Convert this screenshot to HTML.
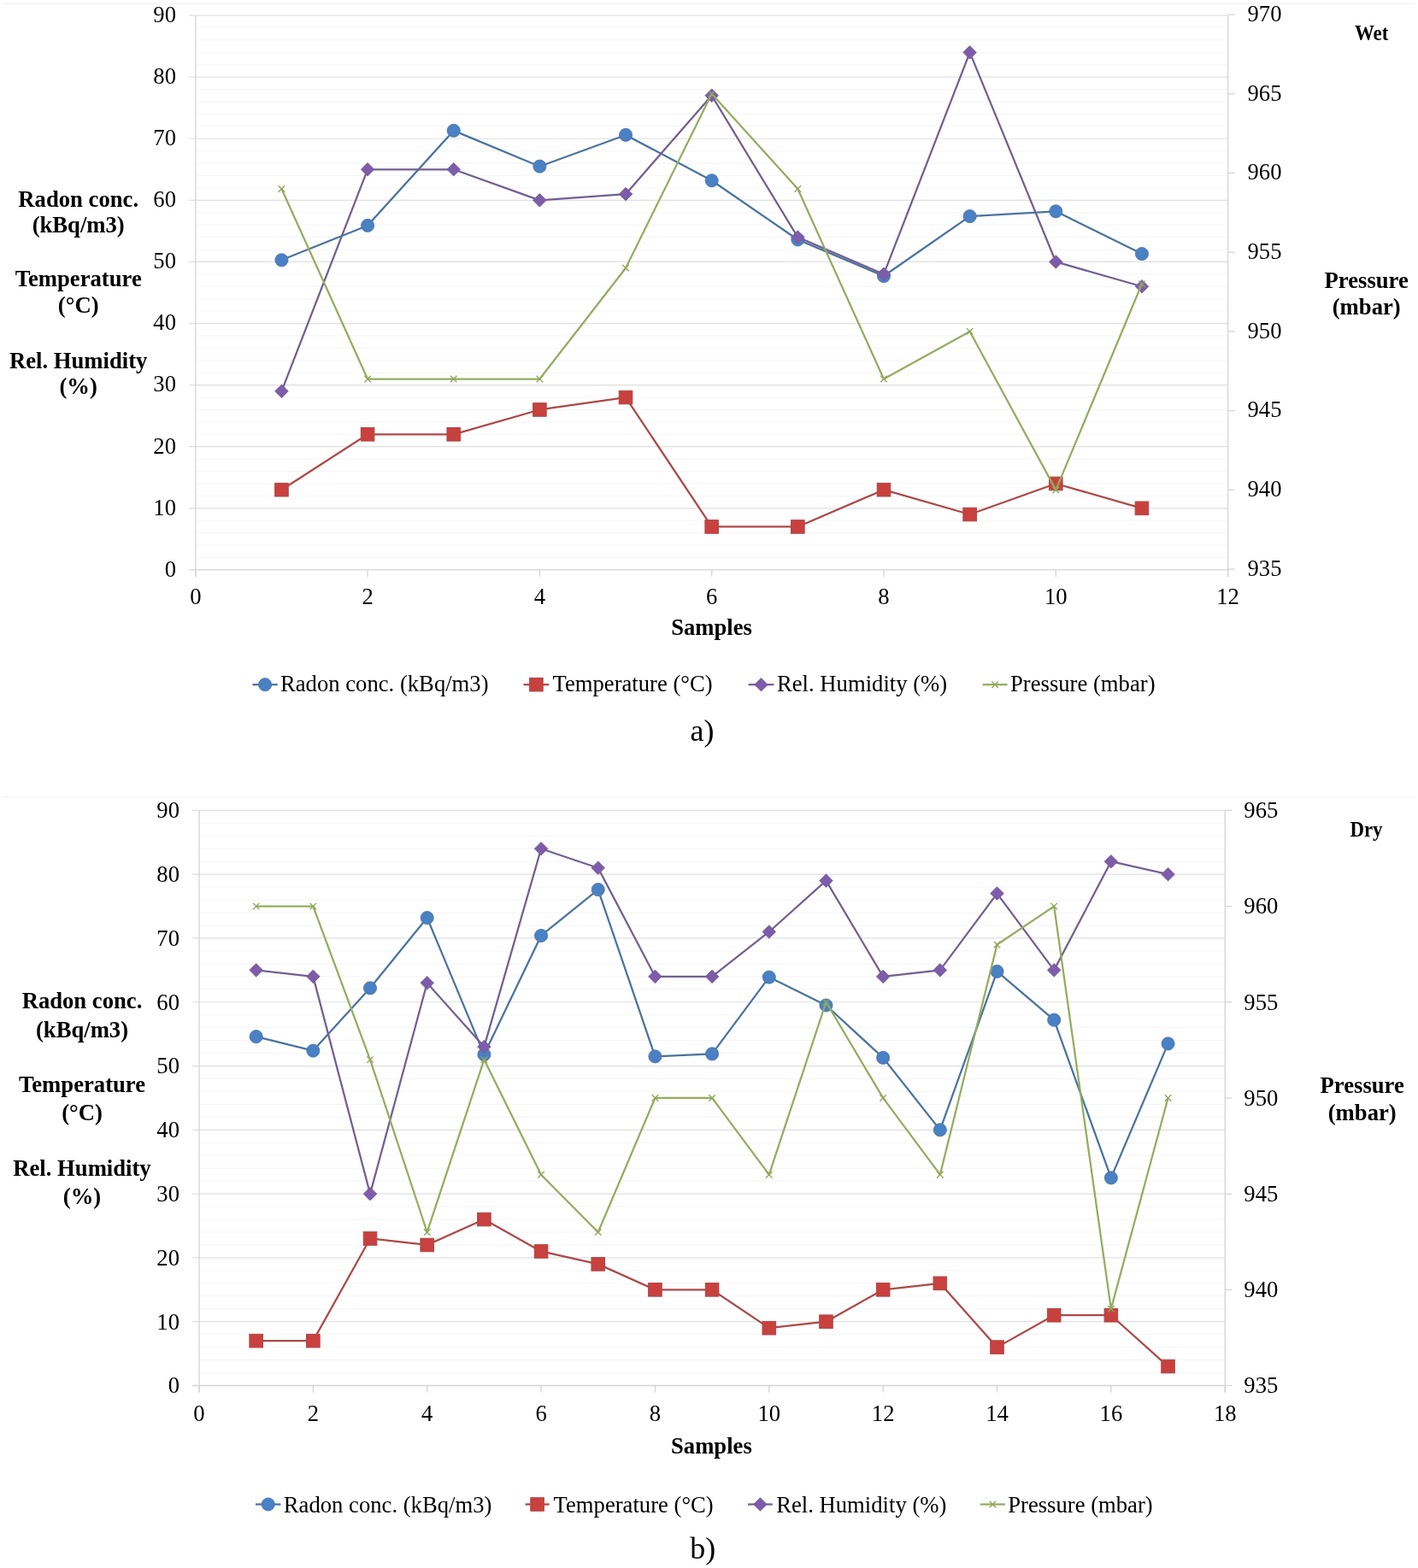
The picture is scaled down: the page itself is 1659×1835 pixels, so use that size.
<!DOCTYPE html>
<html><head><meta charset="utf-8"><title>Radon, temperature, humidity and pressure charts</title>
<style>html,body{margin:0;padding:0;background:#fff;}body{width:1659px;height:1835px;overflow:hidden;}svg{display:block;}</style>
</head><body><div id="c">
<svg width="1659" height="1835" viewBox="0 0 1659 1835">
<rect width="1659" height="1835" fill="#fff"/>
<line x1="2" y1="4.5" x2="1656" y2="4.5" stroke="#f3f3f3" stroke-width="1"/>
<line x1="228.8" y1="652.48" x2="1436.6" y2="652.48" stroke="#f5f5f5" stroke-width="1"/>
<line x1="228.8" y1="638.06" x2="1436.6" y2="638.06" stroke="#f5f5f5" stroke-width="1"/>
<line x1="228.8" y1="623.65" x2="1436.6" y2="623.65" stroke="#f5f5f5" stroke-width="1"/>
<line x1="228.8" y1="609.23" x2="1436.6" y2="609.23" stroke="#f5f5f5" stroke-width="1"/>
<line x1="228.8" y1="580.39" x2="1436.6" y2="580.39" stroke="#f5f5f5" stroke-width="1"/>
<line x1="228.8" y1="565.97" x2="1436.6" y2="565.97" stroke="#f5f5f5" stroke-width="1"/>
<line x1="228.8" y1="551.56" x2="1436.6" y2="551.56" stroke="#f5f5f5" stroke-width="1"/>
<line x1="228.8" y1="537.14" x2="1436.6" y2="537.14" stroke="#f5f5f5" stroke-width="1"/>
<line x1="228.8" y1="508.3" x2="1436.6" y2="508.3" stroke="#f5f5f5" stroke-width="1"/>
<line x1="228.8" y1="493.88" x2="1436.6" y2="493.88" stroke="#f5f5f5" stroke-width="1"/>
<line x1="228.8" y1="479.47" x2="1436.6" y2="479.47" stroke="#f5f5f5" stroke-width="1"/>
<line x1="228.8" y1="465.05" x2="1436.6" y2="465.05" stroke="#f5f5f5" stroke-width="1"/>
<line x1="228.8" y1="436.21" x2="1436.6" y2="436.21" stroke="#f5f5f5" stroke-width="1"/>
<line x1="228.8" y1="421.79" x2="1436.6" y2="421.79" stroke="#f5f5f5" stroke-width="1"/>
<line x1="228.8" y1="407.38" x2="1436.6" y2="407.38" stroke="#f5f5f5" stroke-width="1"/>
<line x1="228.8" y1="392.96" x2="1436.6" y2="392.96" stroke="#f5f5f5" stroke-width="1"/>
<line x1="228.8" y1="364.12" x2="1436.6" y2="364.12" stroke="#f5f5f5" stroke-width="1"/>
<line x1="228.8" y1="349.7" x2="1436.6" y2="349.7" stroke="#f5f5f5" stroke-width="1"/>
<line x1="228.8" y1="335.29" x2="1436.6" y2="335.29" stroke="#f5f5f5" stroke-width="1"/>
<line x1="228.8" y1="320.87" x2="1436.6" y2="320.87" stroke="#f5f5f5" stroke-width="1"/>
<line x1="228.8" y1="292.03" x2="1436.6" y2="292.03" stroke="#f5f5f5" stroke-width="1"/>
<line x1="228.8" y1="277.61" x2="1436.6" y2="277.61" stroke="#f5f5f5" stroke-width="1"/>
<line x1="228.8" y1="263.2" x2="1436.6" y2="263.2" stroke="#f5f5f5" stroke-width="1"/>
<line x1="228.8" y1="248.78" x2="1436.6" y2="248.78" stroke="#f5f5f5" stroke-width="1"/>
<line x1="228.8" y1="219.94" x2="1436.6" y2="219.94" stroke="#f5f5f5" stroke-width="1"/>
<line x1="228.8" y1="205.52" x2="1436.6" y2="205.52" stroke="#f5f5f5" stroke-width="1"/>
<line x1="228.8" y1="191.11" x2="1436.6" y2="191.11" stroke="#f5f5f5" stroke-width="1"/>
<line x1="228.8" y1="176.69" x2="1436.6" y2="176.69" stroke="#f5f5f5" stroke-width="1"/>
<line x1="228.8" y1="147.85" x2="1436.6" y2="147.85" stroke="#f5f5f5" stroke-width="1"/>
<line x1="228.8" y1="133.43" x2="1436.6" y2="133.43" stroke="#f5f5f5" stroke-width="1"/>
<line x1="228.8" y1="119.02" x2="1436.6" y2="119.02" stroke="#f5f5f5" stroke-width="1"/>
<line x1="228.8" y1="104.6" x2="1436.6" y2="104.6" stroke="#f5f5f5" stroke-width="1"/>
<line x1="228.8" y1="75.76" x2="1436.6" y2="75.76" stroke="#f5f5f5" stroke-width="1"/>
<line x1="228.8" y1="61.34" x2="1436.6" y2="61.34" stroke="#f5f5f5" stroke-width="1"/>
<line x1="228.8" y1="46.93" x2="1436.6" y2="46.93" stroke="#f5f5f5" stroke-width="1"/>
<line x1="228.8" y1="32.51" x2="1436.6" y2="32.51" stroke="#f5f5f5" stroke-width="1"/>
<line x1="220.8" y1="594.81" x2="1436.6" y2="594.81" stroke="#e0e0e0" stroke-width="1.2"/>
<line x1="220.8" y1="522.72" x2="1436.6" y2="522.72" stroke="#e0e0e0" stroke-width="1.2"/>
<line x1="220.8" y1="450.63" x2="1436.6" y2="450.63" stroke="#e0e0e0" stroke-width="1.2"/>
<line x1="220.8" y1="378.54" x2="1436.6" y2="378.54" stroke="#e0e0e0" stroke-width="1.2"/>
<line x1="220.8" y1="306.45" x2="1436.6" y2="306.45" stroke="#e0e0e0" stroke-width="1.2"/>
<line x1="220.8" y1="234.36" x2="1436.6" y2="234.36" stroke="#e0e0e0" stroke-width="1.2"/>
<line x1="220.8" y1="162.27" x2="1436.6" y2="162.27" stroke="#e0e0e0" stroke-width="1.2"/>
<line x1="220.8" y1="90.18" x2="1436.6" y2="90.18" stroke="#e0e0e0" stroke-width="1.2"/>
<line x1="220.8" y1="18.09" x2="1436.6" y2="18.09" stroke="#e0e0e0" stroke-width="1.2"/>
<line x1="220.8" y1="666.9" x2="1436.6" y2="666.9" stroke="#d4d4d4" stroke-width="1.3"/>
<line x1="228.8" y1="18.09" x2="228.8" y2="674.9" stroke="#d4d4d4" stroke-width="1.3"/>
<line x1="1436.6" y1="18.09" x2="1436.6" y2="674.9" stroke="#d4d4d4" stroke-width="1.3"/>
<line x1="228.8" y1="666.9" x2="228.8" y2="674.9" stroke="#d4d4d4" stroke-width="1.3"/>
<line x1="430.1" y1="666.9" x2="430.1" y2="674.9" stroke="#d4d4d4" stroke-width="1.3"/>
<line x1="631.4" y1="666.9" x2="631.4" y2="674.9" stroke="#d4d4d4" stroke-width="1.3"/>
<line x1="832.7" y1="666.9" x2="832.7" y2="674.9" stroke="#d4d4d4" stroke-width="1.3"/>
<line x1="1034" y1="666.9" x2="1034" y2="674.9" stroke="#d4d4d4" stroke-width="1.3"/>
<line x1="1235.3" y1="666.9" x2="1235.3" y2="674.9" stroke="#d4d4d4" stroke-width="1.3"/>
<line x1="1436.6" y1="666.9" x2="1436.6" y2="674.9" stroke="#d4d4d4" stroke-width="1.3"/>
<line x1="1436.6" y1="666.1" x2="1444.6" y2="666.1" stroke="#d4d4d4" stroke-width="1.3"/>
<line x1="1436.6" y1="573.38" x2="1444.6" y2="573.38" stroke="#d4d4d4" stroke-width="1.3"/>
<line x1="1436.6" y1="480.65" x2="1444.6" y2="480.65" stroke="#d4d4d4" stroke-width="1.3"/>
<line x1="1436.6" y1="387.93" x2="1444.6" y2="387.93" stroke="#d4d4d4" stroke-width="1.3"/>
<line x1="1436.6" y1="295.2" x2="1444.6" y2="295.2" stroke="#d4d4d4" stroke-width="1.3"/>
<line x1="1436.6" y1="202.47" x2="1444.6" y2="202.47" stroke="#d4d4d4" stroke-width="1.3"/>
<line x1="1436.6" y1="109.75" x2="1444.6" y2="109.75" stroke="#d4d4d4" stroke-width="1.3"/>
<line x1="1436.6" y1="17.02" x2="1444.6" y2="17.02" stroke="#d4d4d4" stroke-width="1.3"/>
<polyline points="329.45,304.29 430.1,263.92 530.75,152.9 631.4,194.71 732.05,157.94 832.7,211.29 933.35,280.5 1034,323.03 1134.65,253.1 1235.3,247.34 1335.95,297.08" fill="none" stroke="#4a73a0" stroke-width="2.25" stroke-linejoin="round"/>
<circle cx="329.45" cy="304.29" r="7.6" fill="#4a80c4" stroke="#4a73a0" stroke-width="0.8"/>
<circle cx="430.1" cy="263.92" r="7.6" fill="#4a80c4" stroke="#4a73a0" stroke-width="0.8"/>
<circle cx="530.75" cy="152.9" r="7.6" fill="#4a80c4" stroke="#4a73a0" stroke-width="0.8"/>
<circle cx="631.4" cy="194.71" r="7.6" fill="#4a80c4" stroke="#4a73a0" stroke-width="0.8"/>
<circle cx="732.05" cy="157.94" r="7.6" fill="#4a80c4" stroke="#4a73a0" stroke-width="0.8"/>
<circle cx="832.7" cy="211.29" r="7.6" fill="#4a80c4" stroke="#4a73a0" stroke-width="0.8"/>
<circle cx="933.35" cy="280.5" r="7.6" fill="#4a80c4" stroke="#4a73a0" stroke-width="0.8"/>
<circle cx="1034" cy="323.03" r="7.6" fill="#4a80c4" stroke="#4a73a0" stroke-width="0.8"/>
<circle cx="1134.65" cy="253.1" r="7.6" fill="#4a80c4" stroke="#4a73a0" stroke-width="0.8"/>
<circle cx="1235.3" cy="247.34" r="7.6" fill="#4a80c4" stroke="#4a73a0" stroke-width="0.8"/>
<circle cx="1335.95" cy="297.08" r="7.6" fill="#4a80c4" stroke="#4a73a0" stroke-width="0.8"/>
<polyline points="329.45,573.18 430.1,508.3 530.75,508.3 631.4,479.47 732.05,465.05 832.7,616.44 933.35,616.44 1034,573.18 1134.65,602.02 1235.3,565.97 1335.95,594.81" fill="none" stroke="#ad4848" stroke-width="2.25" stroke-linejoin="round"/>
<rect x="321.65" y="565.38" width="15.6" height="15.6" fill="#c8413e" stroke="#ad4848" stroke-width="1"/>
<rect x="422.3" y="500.5" width="15.6" height="15.6" fill="#c8413e" stroke="#ad4848" stroke-width="1"/>
<rect x="522.95" y="500.5" width="15.6" height="15.6" fill="#c8413e" stroke="#ad4848" stroke-width="1"/>
<rect x="623.6" y="471.67" width="15.6" height="15.6" fill="#c8413e" stroke="#ad4848" stroke-width="1"/>
<rect x="724.25" y="457.25" width="15.6" height="15.6" fill="#c8413e" stroke="#ad4848" stroke-width="1"/>
<rect x="824.9" y="608.64" width="15.6" height="15.6" fill="#c8413e" stroke="#ad4848" stroke-width="1"/>
<rect x="925.55" y="608.64" width="15.6" height="15.6" fill="#c8413e" stroke="#ad4848" stroke-width="1"/>
<rect x="1026.2" y="565.38" width="15.6" height="15.6" fill="#c8413e" stroke="#ad4848" stroke-width="1"/>
<rect x="1126.85" y="594.22" width="15.6" height="15.6" fill="#c8413e" stroke="#ad4848" stroke-width="1"/>
<rect x="1227.5" y="558.17" width="15.6" height="15.6" fill="#c8413e" stroke="#ad4848" stroke-width="1"/>
<rect x="1328.15" y="587.01" width="15.6" height="15.6" fill="#c8413e" stroke="#ad4848" stroke-width="1"/>
<polyline points="329.45,457.84 430.1,198.31 530.75,198.31 631.4,234.36 732.05,227.15 832.7,111.81 933.35,277.61 1034,320.87 1134.65,61.34 1235.3,306.45 1335.95,335.29" fill="none" stroke="#735f91" stroke-width="2.25" stroke-linejoin="round"/>
<polygon points="329.45,450.04 337.25,457.84 329.45,465.64 321.65,457.84" fill="#7d5cab" stroke="#735f91" stroke-width="0.8"/>
<polygon points="430.1,190.51 437.9,198.31 430.1,206.12 422.3,198.31" fill="#7d5cab" stroke="#735f91" stroke-width="0.8"/>
<polygon points="530.75,190.51 538.55,198.31 530.75,206.12 522.95,198.31" fill="#7d5cab" stroke="#735f91" stroke-width="0.8"/>
<polygon points="631.4,226.56 639.2,234.36 631.4,242.16 623.6,234.36" fill="#7d5cab" stroke="#735f91" stroke-width="0.8"/>
<polygon points="732.05,219.35 739.85,227.15 732.05,234.95 724.25,227.15" fill="#7d5cab" stroke="#735f91" stroke-width="0.8"/>
<polygon points="832.7,104.01 840.5,111.81 832.7,119.61 824.9,111.81" fill="#7d5cab" stroke="#735f91" stroke-width="0.8"/>
<polygon points="933.35,269.81 941.15,277.61 933.35,285.41 925.55,277.61" fill="#7d5cab" stroke="#735f91" stroke-width="0.8"/>
<polygon points="1034,313.07 1041.8,320.87 1034,328.67 1026.2,320.87" fill="#7d5cab" stroke="#735f91" stroke-width="0.8"/>
<polygon points="1134.65,53.54 1142.45,61.34 1134.65,69.14 1126.85,61.34" fill="#7d5cab" stroke="#735f91" stroke-width="0.8"/>
<polygon points="1235.3,298.65 1243.1,306.45 1235.3,314.25 1227.5,306.45" fill="#7d5cab" stroke="#735f91" stroke-width="0.8"/>
<polygon points="1335.95,327.49 1343.75,335.29 1335.95,343.09 1328.15,335.29" fill="#7d5cab" stroke="#735f91" stroke-width="0.8"/>
<polyline points="329.45,221.02 430.1,443.56 530.75,443.56 631.4,443.56 732.05,313.75 832.7,109.75 933.35,221.02 1034,443.56 1134.65,387.93 1235.3,573.38 1335.95,332.29" fill="none" stroke="#93ad5e" stroke-width="2.25" stroke-linejoin="round"/>
<path d="M325.75,217.32L333.15,224.72M325.75,224.72L333.15,217.32" stroke="#8ea85a" stroke-width="1.4" fill="none"/>
<path d="M426.4,439.86L433.8,447.26M426.4,447.26L433.8,439.86" stroke="#8ea85a" stroke-width="1.4" fill="none"/>
<path d="M527.05,439.86L534.45,447.26M527.05,447.26L534.45,439.86" stroke="#8ea85a" stroke-width="1.4" fill="none"/>
<path d="M627.7,439.86L635.1,447.26M627.7,447.26L635.1,439.86" stroke="#8ea85a" stroke-width="1.4" fill="none"/>
<path d="M728.35,310.05L735.75,317.44M728.35,317.44L735.75,310.05" stroke="#8ea85a" stroke-width="1.4" fill="none"/>
<path d="M829,106.05L836.4,113.45M829,113.45L836.4,106.05" stroke="#8ea85a" stroke-width="1.4" fill="none"/>
<path d="M929.65,217.32L937.05,224.72M929.65,224.72L937.05,217.32" stroke="#8ea85a" stroke-width="1.4" fill="none"/>
<path d="M1030.3,439.86L1037.7,447.26M1030.3,447.26L1037.7,439.86" stroke="#8ea85a" stroke-width="1.4" fill="none"/>
<path d="M1130.95,384.23L1138.35,391.62M1130.95,391.62L1138.35,384.23" stroke="#8ea85a" stroke-width="1.4" fill="none"/>
<path d="M1231.6,569.67L1239,577.08M1231.6,577.08L1239,569.67" stroke="#8ea85a" stroke-width="1.4" fill="none"/>
<path d="M1332.25,328.59L1339.65,335.99M1332.25,335.99L1339.65,328.59" stroke="#8ea85a" stroke-width="1.4" fill="none"/>
<g font-family='"Liberation Serif", "Times New Roman", serif' font-size="26.67" fill="#000">
<text x="206" y="674.7" text-anchor="end">0</text>
<text x="206" y="602.61" text-anchor="end">10</text>
<text x="206" y="530.52" text-anchor="end">20</text>
<text x="206" y="458.43" text-anchor="end">30</text>
<text x="206" y="386.34" text-anchor="end">40</text>
<text x="206" y="314.25" text-anchor="end">50</text>
<text x="206" y="242.16" text-anchor="end">60</text>
<text x="206" y="170.07" text-anchor="end">70</text>
<text x="206" y="97.98" text-anchor="end">80</text>
<text x="206" y="25.89" text-anchor="end">90</text>
<text x="1459.5" y="673.9">935</text>
<text x="1459.5" y="581.17">940</text>
<text x="1459.5" y="488.45">945</text>
<text x="1459.5" y="395.73">950</text>
<text x="1459.5" y="303">955</text>
<text x="1459.5" y="210.27">960</text>
<text x="1459.5" y="117.55">965</text>
<text x="1459.5" y="24.82">970</text>
<text x="228.8" y="707" text-anchor="middle">0</text>
<text x="430.1" y="707" text-anchor="middle">2</text>
<text x="631.4" y="707" text-anchor="middle">4</text>
<text x="832.7" y="707" text-anchor="middle">6</text>
<text x="1034" y="707" text-anchor="middle">8</text>
<text x="1235.3" y="707" text-anchor="middle">10</text>
<text x="1436.6" y="707" text-anchor="middle">12</text>
</g>
<g font-family='"Liberation Serif", "Times New Roman", serif' font-size="26.67" font-weight="bold" fill="#000" text-anchor="middle">
<text x="91.7" y="241.5">Radon conc.</text>
<text x="91.7" y="271.7">(kBq/m3)</text>
<text x="91.7" y="335.1">Temperature</text>
<text x="91.7" y="365.6">(°C)</text>
<text x="91.7" y="430.5">Rel. Humidity</text>
<text x="91.7" y="461">(%)</text>
<text x="1598.7" y="336.6">Pressure</text>
<text x="1598.7" y="367.6">(mbar)</text>
<text x="832.6" y="742.9">Samples</text>
<text transform="translate(1604.6,47.1) scale(1,1.13)" font-size="22.9">Wet</text>
</g>
<line x1="295.4" y1="801.2" x2="324.8" y2="801.2" stroke="#4a73a0" stroke-width="2.25"/>
<circle cx="310.1" cy="801.2" r="7.6" fill="#4a80c4" stroke="#4a73a0" stroke-width="0.8"/>
<text x="328" y="809.4" font-family='"Liberation Serif", "Times New Roman", serif' font-size="26.67" fill="#000">Radon conc. (kBq/m3)</text>
<line x1="612.5" y1="801.2" x2="642.3" y2="801.2" stroke="#ad4848" stroke-width="2.25"/>
<rect x="619.6" y="793.4" width="15.6" height="15.6" fill="#c8413e" stroke="#ad4848" stroke-width="1"/>
<text x="646.5" y="809.4" font-family='"Liberation Serif", "Times New Roman", serif' font-size="26.67" fill="#000">Temperature (°C)</text>
<line x1="875.6" y1="801.2" x2="905.4" y2="801.2" stroke="#735f91" stroke-width="2.25"/>
<polygon points="890.5,793.4 898.3,801.2 890.5,809 882.7,801.2" fill="#7d5cab" stroke="#735f91" stroke-width="0.8"/>
<text x="909" y="809.4" font-family='"Liberation Serif", "Times New Roman", serif' font-size="26.67" fill="#000">Rel. Humidity (%)</text>
<line x1="1149.6" y1="801.2" x2="1178.6" y2="801.2" stroke="#93ad5e" stroke-width="2.25"/>
<path d="M1160.4,797.5L1167.8,804.9M1160.4,804.9L1167.8,797.5" stroke="#8ea85a" stroke-width="1.4" fill="none"/>
<text x="1182" y="809.4" font-family='"Liberation Serif", "Times New Roman", serif' font-size="26.67" fill="#000">Pressure (mbar)</text>
<text x="807.5" y="866.7" font-family='"Liberation Serif", "Times New Roman", serif' font-size="36" fill="#000">a)</text>
<line x1="2" y1="932.2" x2="1656" y2="932.2" stroke="#f3f3f3" stroke-width="1"/>
<line x1="233" y1="1606.54" x2="1433.24" y2="1606.54" stroke="#f5f5f5" stroke-width="1"/>
<line x1="233" y1="1591.58" x2="1433.24" y2="1591.58" stroke="#f5f5f5" stroke-width="1"/>
<line x1="233" y1="1576.63" x2="1433.24" y2="1576.63" stroke="#f5f5f5" stroke-width="1"/>
<line x1="233" y1="1561.67" x2="1433.24" y2="1561.67" stroke="#f5f5f5" stroke-width="1"/>
<line x1="233" y1="1531.75" x2="1433.24" y2="1531.75" stroke="#f5f5f5" stroke-width="1"/>
<line x1="233" y1="1516.79" x2="1433.24" y2="1516.79" stroke="#f5f5f5" stroke-width="1"/>
<line x1="233" y1="1501.84" x2="1433.24" y2="1501.84" stroke="#f5f5f5" stroke-width="1"/>
<line x1="233" y1="1486.88" x2="1433.24" y2="1486.88" stroke="#f5f5f5" stroke-width="1"/>
<line x1="233" y1="1456.96" x2="1433.24" y2="1456.96" stroke="#f5f5f5" stroke-width="1"/>
<line x1="233" y1="1442" x2="1433.24" y2="1442" stroke="#f5f5f5" stroke-width="1"/>
<line x1="233" y1="1427.05" x2="1433.24" y2="1427.05" stroke="#f5f5f5" stroke-width="1"/>
<line x1="233" y1="1412.09" x2="1433.24" y2="1412.09" stroke="#f5f5f5" stroke-width="1"/>
<line x1="233" y1="1382.17" x2="1433.24" y2="1382.17" stroke="#f5f5f5" stroke-width="1"/>
<line x1="233" y1="1367.21" x2="1433.24" y2="1367.21" stroke="#f5f5f5" stroke-width="1"/>
<line x1="233" y1="1352.26" x2="1433.24" y2="1352.26" stroke="#f5f5f5" stroke-width="1"/>
<line x1="233" y1="1337.3" x2="1433.24" y2="1337.3" stroke="#f5f5f5" stroke-width="1"/>
<line x1="233" y1="1307.38" x2="1433.24" y2="1307.38" stroke="#f5f5f5" stroke-width="1"/>
<line x1="233" y1="1292.42" x2="1433.24" y2="1292.42" stroke="#f5f5f5" stroke-width="1"/>
<line x1="233" y1="1277.47" x2="1433.24" y2="1277.47" stroke="#f5f5f5" stroke-width="1"/>
<line x1="233" y1="1262.51" x2="1433.24" y2="1262.51" stroke="#f5f5f5" stroke-width="1"/>
<line x1="233" y1="1232.59" x2="1433.24" y2="1232.59" stroke="#f5f5f5" stroke-width="1"/>
<line x1="233" y1="1217.63" x2="1433.24" y2="1217.63" stroke="#f5f5f5" stroke-width="1"/>
<line x1="233" y1="1202.68" x2="1433.24" y2="1202.68" stroke="#f5f5f5" stroke-width="1"/>
<line x1="233" y1="1187.72" x2="1433.24" y2="1187.72" stroke="#f5f5f5" stroke-width="1"/>
<line x1="233" y1="1157.8" x2="1433.24" y2="1157.8" stroke="#f5f5f5" stroke-width="1"/>
<line x1="233" y1="1142.84" x2="1433.24" y2="1142.84" stroke="#f5f5f5" stroke-width="1"/>
<line x1="233" y1="1127.89" x2="1433.24" y2="1127.89" stroke="#f5f5f5" stroke-width="1"/>
<line x1="233" y1="1112.93" x2="1433.24" y2="1112.93" stroke="#f5f5f5" stroke-width="1"/>
<line x1="233" y1="1083.01" x2="1433.24" y2="1083.01" stroke="#f5f5f5" stroke-width="1"/>
<line x1="233" y1="1068.05" x2="1433.24" y2="1068.05" stroke="#f5f5f5" stroke-width="1"/>
<line x1="233" y1="1053.1" x2="1433.24" y2="1053.1" stroke="#f5f5f5" stroke-width="1"/>
<line x1="233" y1="1038.14" x2="1433.24" y2="1038.14" stroke="#f5f5f5" stroke-width="1"/>
<line x1="233" y1="1008.22" x2="1433.24" y2="1008.22" stroke="#f5f5f5" stroke-width="1"/>
<line x1="233" y1="993.26" x2="1433.24" y2="993.26" stroke="#f5f5f5" stroke-width="1"/>
<line x1="233" y1="978.31" x2="1433.24" y2="978.31" stroke="#f5f5f5" stroke-width="1"/>
<line x1="233" y1="963.35" x2="1433.24" y2="963.35" stroke="#f5f5f5" stroke-width="1"/>
<line x1="225" y1="1546.71" x2="1433.24" y2="1546.71" stroke="#e0e0e0" stroke-width="1.2"/>
<line x1="225" y1="1471.92" x2="1433.24" y2="1471.92" stroke="#e0e0e0" stroke-width="1.2"/>
<line x1="225" y1="1397.13" x2="1433.24" y2="1397.13" stroke="#e0e0e0" stroke-width="1.2"/>
<line x1="225" y1="1322.34" x2="1433.24" y2="1322.34" stroke="#e0e0e0" stroke-width="1.2"/>
<line x1="225" y1="1247.55" x2="1433.24" y2="1247.55" stroke="#e0e0e0" stroke-width="1.2"/>
<line x1="225" y1="1172.76" x2="1433.24" y2="1172.76" stroke="#e0e0e0" stroke-width="1.2"/>
<line x1="225" y1="1097.97" x2="1433.24" y2="1097.97" stroke="#e0e0e0" stroke-width="1.2"/>
<line x1="225" y1="1023.18" x2="1433.24" y2="1023.18" stroke="#e0e0e0" stroke-width="1.2"/>
<line x1="225" y1="948.39" x2="1433.24" y2="948.39" stroke="#e0e0e0" stroke-width="1.2"/>
<line x1="225" y1="1621.5" x2="1433.24" y2="1621.5" stroke="#d4d4d4" stroke-width="1.3"/>
<line x1="233" y1="948.39" x2="233" y2="1629.5" stroke="#d4d4d4" stroke-width="1.3"/>
<line x1="1433.24" y1="948.39" x2="1433.24" y2="1629.5" stroke="#d4d4d4" stroke-width="1.3"/>
<line x1="233" y1="1621.5" x2="233" y2="1629.5" stroke="#d4d4d4" stroke-width="1.3"/>
<line x1="366.36" y1="1621.5" x2="366.36" y2="1629.5" stroke="#d4d4d4" stroke-width="1.3"/>
<line x1="499.72" y1="1621.5" x2="499.72" y2="1629.5" stroke="#d4d4d4" stroke-width="1.3"/>
<line x1="633.08" y1="1621.5" x2="633.08" y2="1629.5" stroke="#d4d4d4" stroke-width="1.3"/>
<line x1="766.44" y1="1621.5" x2="766.44" y2="1629.5" stroke="#d4d4d4" stroke-width="1.3"/>
<line x1="899.8" y1="1621.5" x2="899.8" y2="1629.5" stroke="#d4d4d4" stroke-width="1.3"/>
<line x1="1033.16" y1="1621.5" x2="1033.16" y2="1629.5" stroke="#d4d4d4" stroke-width="1.3"/>
<line x1="1166.52" y1="1621.5" x2="1166.52" y2="1629.5" stroke="#d4d4d4" stroke-width="1.3"/>
<line x1="1299.88" y1="1621.5" x2="1299.88" y2="1629.5" stroke="#d4d4d4" stroke-width="1.3"/>
<line x1="1433.24" y1="1621.5" x2="1433.24" y2="1629.5" stroke="#d4d4d4" stroke-width="1.3"/>
<line x1="1433.24" y1="1621.5" x2="1441.24" y2="1621.5" stroke="#d4d4d4" stroke-width="1.3"/>
<line x1="1433.24" y1="1509.32" x2="1441.24" y2="1509.32" stroke="#d4d4d4" stroke-width="1.3"/>
<line x1="1433.24" y1="1397.13" x2="1441.24" y2="1397.13" stroke="#d4d4d4" stroke-width="1.3"/>
<line x1="1433.24" y1="1284.94" x2="1441.24" y2="1284.94" stroke="#d4d4d4" stroke-width="1.3"/>
<line x1="1433.24" y1="1172.76" x2="1441.24" y2="1172.76" stroke="#d4d4d4" stroke-width="1.3"/>
<line x1="1433.24" y1="1060.57" x2="1441.24" y2="1060.57" stroke="#d4d4d4" stroke-width="1.3"/>
<line x1="1433.24" y1="948.39" x2="1441.24" y2="948.39" stroke="#d4d4d4" stroke-width="1.3"/>
<polyline points="299.68,1213.15 366.36,1229.6 433.04,1156.31 499.72,1074.04 566.4,1234.09 633.08,1094.98 699.76,1041.13 766.44,1236.33 833.12,1233.34 899.8,1143.59 966.48,1176.5 1033.16,1237.83 1099.84,1322.34 1166.52,1136.86 1233.2,1193.7 1299.88,1378.43 1366.56,1221.37" fill="none" stroke="#4a73a0" stroke-width="2.25" stroke-linejoin="round"/>
<circle cx="299.68" cy="1213.15" r="7.6" fill="#4a80c4" stroke="#4a73a0" stroke-width="0.8"/>
<circle cx="366.36" cy="1229.6" r="7.6" fill="#4a80c4" stroke="#4a73a0" stroke-width="0.8"/>
<circle cx="433.04" cy="1156.31" r="7.6" fill="#4a80c4" stroke="#4a73a0" stroke-width="0.8"/>
<circle cx="499.72" cy="1074.04" r="7.6" fill="#4a80c4" stroke="#4a73a0" stroke-width="0.8"/>
<circle cx="566.4" cy="1234.09" r="7.6" fill="#4a80c4" stroke="#4a73a0" stroke-width="0.8"/>
<circle cx="633.08" cy="1094.98" r="7.6" fill="#4a80c4" stroke="#4a73a0" stroke-width="0.8"/>
<circle cx="699.76" cy="1041.13" r="7.6" fill="#4a80c4" stroke="#4a73a0" stroke-width="0.8"/>
<circle cx="766.44" cy="1236.33" r="7.6" fill="#4a80c4" stroke="#4a73a0" stroke-width="0.8"/>
<circle cx="833.12" cy="1233.34" r="7.6" fill="#4a80c4" stroke="#4a73a0" stroke-width="0.8"/>
<circle cx="899.8" cy="1143.59" r="7.6" fill="#4a80c4" stroke="#4a73a0" stroke-width="0.8"/>
<circle cx="966.48" cy="1176.5" r="7.6" fill="#4a80c4" stroke="#4a73a0" stroke-width="0.8"/>
<circle cx="1033.16" cy="1237.83" r="7.6" fill="#4a80c4" stroke="#4a73a0" stroke-width="0.8"/>
<circle cx="1099.84" cy="1322.34" r="7.6" fill="#4a80c4" stroke="#4a73a0" stroke-width="0.8"/>
<circle cx="1166.52" cy="1136.86" r="7.6" fill="#4a80c4" stroke="#4a73a0" stroke-width="0.8"/>
<circle cx="1233.2" cy="1193.7" r="7.6" fill="#4a80c4" stroke="#4a73a0" stroke-width="0.8"/>
<circle cx="1299.88" cy="1378.43" r="7.6" fill="#4a80c4" stroke="#4a73a0" stroke-width="0.8"/>
<circle cx="1366.56" cy="1221.37" r="7.6" fill="#4a80c4" stroke="#4a73a0" stroke-width="0.8"/>
<polyline points="299.68,1569.15 366.36,1569.15 433.04,1449.48 499.72,1456.96 566.4,1427.05 633.08,1464.44 699.76,1479.4 766.44,1509.32 833.12,1509.32 899.8,1554.19 966.48,1546.71 1033.16,1509.32 1099.84,1501.84 1166.52,1576.63 1233.2,1539.23 1299.88,1539.23 1366.56,1599.06" fill="none" stroke="#ad4848" stroke-width="2.25" stroke-linejoin="round"/>
<rect x="291.88" y="1561.35" width="15.6" height="15.6" fill="#c8413e" stroke="#ad4848" stroke-width="1"/>
<rect x="358.56" y="1561.35" width="15.6" height="15.6" fill="#c8413e" stroke="#ad4848" stroke-width="1"/>
<rect x="425.24" y="1441.68" width="15.6" height="15.6" fill="#c8413e" stroke="#ad4848" stroke-width="1"/>
<rect x="491.92" y="1449.16" width="15.6" height="15.6" fill="#c8413e" stroke="#ad4848" stroke-width="1"/>
<rect x="558.6" y="1419.25" width="15.6" height="15.6" fill="#c8413e" stroke="#ad4848" stroke-width="1"/>
<rect x="625.28" y="1456.64" width="15.6" height="15.6" fill="#c8413e" stroke="#ad4848" stroke-width="1"/>
<rect x="691.96" y="1471.6" width="15.6" height="15.6" fill="#c8413e" stroke="#ad4848" stroke-width="1"/>
<rect x="758.64" y="1501.52" width="15.6" height="15.6" fill="#c8413e" stroke="#ad4848" stroke-width="1"/>
<rect x="825.32" y="1501.52" width="15.6" height="15.6" fill="#c8413e" stroke="#ad4848" stroke-width="1"/>
<rect x="892" y="1546.39" width="15.6" height="15.6" fill="#c8413e" stroke="#ad4848" stroke-width="1"/>
<rect x="958.68" y="1538.91" width="15.6" height="15.6" fill="#c8413e" stroke="#ad4848" stroke-width="1"/>
<rect x="1025.36" y="1501.52" width="15.6" height="15.6" fill="#c8413e" stroke="#ad4848" stroke-width="1"/>
<rect x="1092.04" y="1494.04" width="15.6" height="15.6" fill="#c8413e" stroke="#ad4848" stroke-width="1"/>
<rect x="1158.72" y="1568.83" width="15.6" height="15.6" fill="#c8413e" stroke="#ad4848" stroke-width="1"/>
<rect x="1225.4" y="1531.43" width="15.6" height="15.6" fill="#c8413e" stroke="#ad4848" stroke-width="1"/>
<rect x="1292.08" y="1531.43" width="15.6" height="15.6" fill="#c8413e" stroke="#ad4848" stroke-width="1"/>
<rect x="1358.76" y="1591.26" width="15.6" height="15.6" fill="#c8413e" stroke="#ad4848" stroke-width="1"/>
<polyline points="299.68,1135.37 366.36,1142.84 433.04,1397.13 499.72,1150.32 566.4,1225.11 633.08,993.26 699.76,1015.7 766.44,1142.84 833.12,1142.84 899.8,1090.49 966.48,1030.66 1033.16,1142.84 1099.84,1135.37 1166.52,1045.62 1233.2,1135.37 1299.88,1008.22 1366.56,1023.18" fill="none" stroke="#735f91" stroke-width="2.25" stroke-linejoin="round"/>
<polygon points="299.68,1127.57 307.48,1135.37 299.68,1143.16 291.88,1135.37" fill="#7d5cab" stroke="#735f91" stroke-width="0.8"/>
<polygon points="366.36,1135.04 374.16,1142.84 366.36,1150.64 358.56,1142.84" fill="#7d5cab" stroke="#735f91" stroke-width="0.8"/>
<polygon points="433.04,1389.33 440.84,1397.13 433.04,1404.93 425.24,1397.13" fill="#7d5cab" stroke="#735f91" stroke-width="0.8"/>
<polygon points="499.72,1142.52 507.52,1150.32 499.72,1158.12 491.92,1150.32" fill="#7d5cab" stroke="#735f91" stroke-width="0.8"/>
<polygon points="566.4,1217.31 574.2,1225.11 566.4,1232.91 558.6,1225.11" fill="#7d5cab" stroke="#735f91" stroke-width="0.8"/>
<polygon points="633.08,985.46 640.88,993.26 633.08,1001.06 625.28,993.26" fill="#7d5cab" stroke="#735f91" stroke-width="0.8"/>
<polygon points="699.76,1007.9 707.56,1015.7 699.76,1023.5 691.96,1015.7" fill="#7d5cab" stroke="#735f91" stroke-width="0.8"/>
<polygon points="766.44,1135.04 774.24,1142.84 766.44,1150.64 758.64,1142.84" fill="#7d5cab" stroke="#735f91" stroke-width="0.8"/>
<polygon points="833.12,1135.04 840.92,1142.84 833.12,1150.64 825.32,1142.84" fill="#7d5cab" stroke="#735f91" stroke-width="0.8"/>
<polygon points="899.8,1082.69 907.6,1090.49 899.8,1098.29 892,1090.49" fill="#7d5cab" stroke="#735f91" stroke-width="0.8"/>
<polygon points="966.48,1022.86 974.28,1030.66 966.48,1038.46 958.68,1030.66" fill="#7d5cab" stroke="#735f91" stroke-width="0.8"/>
<polygon points="1033.16,1135.04 1040.96,1142.84 1033.16,1150.64 1025.36,1142.84" fill="#7d5cab" stroke="#735f91" stroke-width="0.8"/>
<polygon points="1099.84,1127.57 1107.64,1135.37 1099.84,1143.16 1092.04,1135.37" fill="#7d5cab" stroke="#735f91" stroke-width="0.8"/>
<polygon points="1166.52,1037.82 1174.32,1045.62 1166.52,1053.42 1158.72,1045.62" fill="#7d5cab" stroke="#735f91" stroke-width="0.8"/>
<polygon points="1233.2,1127.57 1241,1135.37 1233.2,1143.16 1225.4,1135.37" fill="#7d5cab" stroke="#735f91" stroke-width="0.8"/>
<polygon points="1299.88,1000.42 1307.68,1008.22 1299.88,1016.02 1292.08,1008.22" fill="#7d5cab" stroke="#735f91" stroke-width="0.8"/>
<polygon points="1366.56,1015.38 1374.36,1023.18 1366.56,1030.98 1358.76,1023.18" fill="#7d5cab" stroke="#735f91" stroke-width="0.8"/>
<polyline points="299.68,1060.57 366.36,1060.57 433.04,1240.07 499.72,1442 566.4,1240.07 633.08,1374.69 699.76,1442 766.44,1284.94 833.12,1284.94 899.8,1374.69 966.48,1172.76 1033.16,1284.94 1099.84,1374.69 1166.52,1105.45 1233.2,1060.57 1299.88,1531.75 1366.56,1284.94" fill="none" stroke="#93ad5e" stroke-width="2.25" stroke-linejoin="round"/>
<path d="M295.98,1056.87L303.38,1064.27M295.98,1064.27L303.38,1056.87" stroke="#8ea85a" stroke-width="1.4" fill="none"/>
<path d="M362.66,1056.87L370.06,1064.27M362.66,1064.27L370.06,1056.87" stroke="#8ea85a" stroke-width="1.4" fill="none"/>
<path d="M429.34,1236.37L436.74,1243.77M429.34,1243.77L436.74,1236.37" stroke="#8ea85a" stroke-width="1.4" fill="none"/>
<path d="M496.02,1438.3L503.42,1445.7M496.02,1445.7L503.42,1438.3" stroke="#8ea85a" stroke-width="1.4" fill="none"/>
<path d="M562.7,1236.37L570.1,1243.77M562.7,1243.77L570.1,1236.37" stroke="#8ea85a" stroke-width="1.4" fill="none"/>
<path d="M629.38,1370.99L636.78,1378.39M629.38,1378.39L636.78,1370.99" stroke="#8ea85a" stroke-width="1.4" fill="none"/>
<path d="M696.06,1438.3L703.46,1445.7M696.06,1445.7L703.46,1438.3" stroke="#8ea85a" stroke-width="1.4" fill="none"/>
<path d="M762.74,1281.24L770.14,1288.64M762.74,1288.64L770.14,1281.24" stroke="#8ea85a" stroke-width="1.4" fill="none"/>
<path d="M829.42,1281.24L836.82,1288.64M829.42,1288.64L836.82,1281.24" stroke="#8ea85a" stroke-width="1.4" fill="none"/>
<path d="M896.1,1370.99L903.5,1378.39M896.1,1378.39L903.5,1370.99" stroke="#8ea85a" stroke-width="1.4" fill="none"/>
<path d="M962.78,1169.06L970.18,1176.46M962.78,1176.46L970.18,1169.06" stroke="#8ea85a" stroke-width="1.4" fill="none"/>
<path d="M1029.46,1281.24L1036.86,1288.64M1029.46,1288.64L1036.86,1281.24" stroke="#8ea85a" stroke-width="1.4" fill="none"/>
<path d="M1096.14,1370.99L1103.54,1378.39M1096.14,1378.39L1103.54,1370.99" stroke="#8ea85a" stroke-width="1.4" fill="none"/>
<path d="M1162.82,1101.75L1170.22,1109.15M1162.82,1109.15L1170.22,1101.75" stroke="#8ea85a" stroke-width="1.4" fill="none"/>
<path d="M1229.5,1056.87L1236.9,1064.27M1229.5,1064.27L1236.9,1056.87" stroke="#8ea85a" stroke-width="1.4" fill="none"/>
<path d="M1296.18,1528.05L1303.58,1535.45M1296.18,1535.45L1303.58,1528.05" stroke="#8ea85a" stroke-width="1.4" fill="none"/>
<path d="M1362.86,1281.24L1370.26,1288.64M1362.86,1288.64L1370.26,1281.24" stroke="#8ea85a" stroke-width="1.4" fill="none"/>
<g font-family='"Liberation Serif", "Times New Roman", serif' font-size="26.67" fill="#000">
<text x="210" y="1630.3" text-anchor="end">0</text>
<text x="210" y="1555.51" text-anchor="end">10</text>
<text x="210" y="1480.72" text-anchor="end">20</text>
<text x="210" y="1405.93" text-anchor="end">30</text>
<text x="210" y="1331.14" text-anchor="end">40</text>
<text x="210" y="1256.35" text-anchor="end">50</text>
<text x="210" y="1181.56" text-anchor="end">60</text>
<text x="210" y="1106.77" text-anchor="end">70</text>
<text x="210" y="1031.98" text-anchor="end">80</text>
<text x="210" y="957.19" text-anchor="end">90</text>
<text x="1455.3" y="1630.3">935</text>
<text x="1455.3" y="1518.12">940</text>
<text x="1455.3" y="1405.93">945</text>
<text x="1455.3" y="1293.74">950</text>
<text x="1455.3" y="1181.56">955</text>
<text x="1455.3" y="1069.37">960</text>
<text x="1455.3" y="957.19">965</text>
<text x="233" y="1662.6" text-anchor="middle">0</text>
<text x="366.36" y="1662.6" text-anchor="middle">2</text>
<text x="499.72" y="1662.6" text-anchor="middle">4</text>
<text x="633.08" y="1662.6" text-anchor="middle">6</text>
<text x="766.44" y="1662.6" text-anchor="middle">8</text>
<text x="899.8" y="1662.6" text-anchor="middle">10</text>
<text x="1033.16" y="1662.6" text-anchor="middle">12</text>
<text x="1166.52" y="1662.6" text-anchor="middle">14</text>
<text x="1299.88" y="1662.6" text-anchor="middle">16</text>
<text x="1433.24" y="1662.6" text-anchor="middle">18</text>
</g>
<g font-family='"Liberation Serif", "Times New Roman", serif' font-size="26.67" font-weight="bold" fill="#000" text-anchor="middle">
<text x="96" y="1180.3">Radon conc.</text>
<text x="96" y="1213.5">(kBq/m3)</text>
<text x="96" y="1278.3">Temperature</text>
<text x="96" y="1311.4">(°C)</text>
<text x="96" y="1376.2">Rel. Humidity</text>
<text x="96" y="1408.6">(%)</text>
<text x="1593.7" y="1279.3">Pressure</text>
<text x="1593.7" y="1311.4">(mbar)</text>
<text x="832.4" y="1700.7">Samples</text>
<text transform="translate(1598.5,979.4) scale(1,1.13)" font-size="22.9">Dry</text>
</g>
<line x1="299" y1="1760.5" x2="328.5" y2="1760.5" stroke="#4a73a0" stroke-width="2.25"/>
<circle cx="313.75" cy="1760.5" r="7.6" fill="#4a80c4" stroke="#4a73a0" stroke-width="0.8"/>
<text x="331.8" y="1769.5" font-family='"Liberation Serif", "Times New Roman", serif' font-size="26.67" fill="#000">Radon conc. (kBq/m3)</text>
<line x1="614.5" y1="1760.5" x2="642.7" y2="1760.5" stroke="#ad4848" stroke-width="2.25"/>
<rect x="620.8" y="1752.7" width="15.6" height="15.6" fill="#c8413e" stroke="#ad4848" stroke-width="1"/>
<text x="647.6" y="1769.5" font-family='"Liberation Serif", "Times New Roman", serif' font-size="26.67" fill="#000">Temperature (°C)</text>
<line x1="875" y1="1760.5" x2="903.9" y2="1760.5" stroke="#735f91" stroke-width="2.25"/>
<polygon points="889.45,1752.7 897.25,1760.5 889.45,1768.3 881.65,1760.5" fill="#7d5cab" stroke="#735f91" stroke-width="0.8"/>
<text x="908.2" y="1769.5" font-family='"Liberation Serif", "Times New Roman", serif' font-size="26.67" fill="#000">Rel. Humidity (%)</text>
<line x1="1146.8" y1="1760.5" x2="1176" y2="1760.5" stroke="#93ad5e" stroke-width="2.25"/>
<path d="M1157.7,1756.8L1165.1,1764.2M1157.7,1764.2L1165.1,1756.8" stroke="#8ea85a" stroke-width="1.4" fill="none"/>
<text x="1179.2" y="1769.5" font-family='"Liberation Serif", "Times New Roman", serif' font-size="26.67" fill="#000">Pressure (mbar)</text>
<text x="807.2" y="1823.7" font-family='"Liberation Serif", "Times New Roman", serif' font-size="36" fill="#000">b)</text>
</svg>
</div></body></html>
